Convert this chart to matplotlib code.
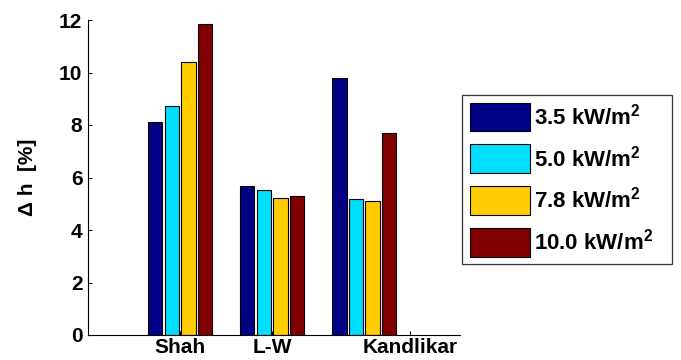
import numpy as np
import matplotlib
matplotlib.use('Agg')
import matplotlib.pyplot as plt

plt.rcParams.update({
    'font.family': 'Liberation Sans',
    'font.weight': 'bold',
    'mathtext.fontset': 'custom',
    'mathtext.rm': 'Liberation Sans:bold',
    'mathtext.it': 'Liberation Sans:bold',
    'mathtext.bf': 'Liberation Sans:bold',
})

# --- Data: deviation in heat transfer coefficient per correlation ---
correlations = ['Shah', 'L-W', 'Kandlikar']
tick_pos = [1, 2, 3.5]
heat_flux_labels = [r'3.5 kW/m$^{2}$', r'5.0 kW/m$^{2}$',
                    r'7.8 kW/m$^{2}$', r'10.0 kW/m$^{2}$']
dh_35 = [8.10, 5.69, 9.80]
dh_50 = [8.72, 5.51, 5.17]
dh_78 = [10.41, 5.23, 5.12]
dh_100 = [11.83, 5.28, 7.71]

series = [dh_35, dh_50, dh_78, dh_100]
colors = ['#000086', '#00DDFF', '#FFCC00', '#800000']
offsets = [-0.27, -0.09, 0.09, 0.27]
width = 0.155

fig = plt.figure(figsize=(6.81, 3.6), dpi=100)
ax = fig.add_axes([88 / 681, 25 / 360, 372 / 681, 315 / 360])

x = np.arange(1, len(correlations) + 1)
for vals, col, off, lab in zip(series, colors, offsets, heat_flux_labels):
    ax.bar(x + off, vals, width, color=col, edgecolor='black',
           linewidth=0.8, label=lab, zorder=2)

ax.set_xlim(0, 4.04)
ax.set_ylim(0, 12)
ax.set_yticks(np.arange(0, 13, 2))
ax.set_xticks(tick_pos)
ax.set_xticklabels(correlations)
ax.tick_params(axis='both', direction='in', length=3, width=0.8,
               labelsize=15, pad=4)
ax.tick_params(axis='x', pad=2)
for lbl in ax.get_xticklabels() + ax.get_yticklabels():
    lbl.set_fontweight('bold')

for side in ('top', 'right'):
    ax.spines[side].set_visible(False)
for side in ('left', 'bottom'):
    ax.spines[side].set_linewidth(0.8)

ax.set_ylabel('Δ h  [%]', fontsize=15, fontweight='bold')
ax.yaxis.set_label_coords(-0.137, 0.5)

leg = ax.legend(loc='upper left',
                bbox_to_anchor=(462 / 681, 100 / 360, 210 / 681, 165 / 360),
                bbox_transform=fig.transFigure, mode='expand',
                borderaxespad=0, fontsize=16, handlelength=2.7,
                handleheight=1.6, handletextpad=0.2, labelspacing=0.6,
                borderpad=0.34, fancybox=False, frameon=True)
leg.get_frame().set_edgecolor('black')
leg.get_frame().set_linewidth(0.9)

fig.savefig('out.png', dpi=100)
